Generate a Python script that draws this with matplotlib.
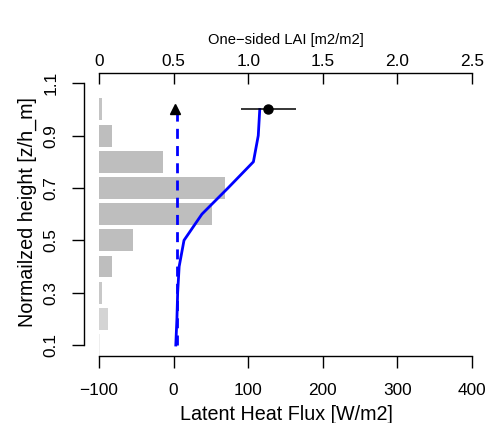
import matplotlib
matplotlib.use("Agg")
import matplotlib.pyplot as plt

plt.rcParams["font.family"] = ["Liberation Sans", "DejaVu Sans"]

# Canopy layers (normalized height) and leaf area per layer
layer_height = [0.1, 0.2, 0.3, 0.4, 0.5, 0.6, 0.7, 0.8, 0.9, 1.0]
layer_lai = [0.005, 0.062, 0.02, 0.085, 0.228, 0.76, 0.842, 0.43, 0.086, 0.02]
layer_color = ["#EEEEEE", "#D4D4D4", "#C8C8C8", "#BEBEBE", "#BEBEBE",
               "#BEBEBE", "#BEBEBE", "#BEBEBE", "#BEBEBE", "#C4C4C4"]

# Modelled latent heat flux profiles [W/m2]
profile_height = [0.1, 0.2, 0.3, 0.4, 0.5, 0.6, 0.7, 0.8, 0.9, 1.0]
flux_total = [3, 4.5, 5.5, 7.5, 14, 38, 73, 107, 113.5, 115.5]
flux_soil = [5, 5, 5, 5, 5, 5, 5, 5, 5, 5]

# Observations at canopy top
obs_height = 1.0
obs_flux = 127
obs_flux_err = 36.5
obs_soil_flux = 2.5

flux_ticks = [-100, 0, 100, 200, 300, 400]
height_ticks = [0.1, 0.3, 0.5, 0.7, 0.9, 1.1]
lai_ticks = [0, 0.5, 1.0, 1.5, 2.0, 2.5]
lai_tick_labels = ["0", "0.5", "1.0", "1.5", "2.0", "2.5"]

W, H = 491, 423
fig = plt.figure(figsize=(W / 100, H / 100), dpi=100)
left, right, top, bottom = 84, 487, 72.8, 355.5
ax = fig.add_axes([left / W, 1 - bottom / H, (right - left) / W, (bottom - top) / H])
ax2 = ax.twiny()

# LAI bars on the top axis, kept behind the flux profiles
ax2.barh(layer_height, layer_lai, height=0.084, left=0, color=layer_color,
         edgecolor="none", zorder=1)
ax2.set_xlim(-0.1, 2.6)
ax.set_zorder(ax2.get_zorder() + 1)
ax.patch.set_visible(False)

ax.plot(flux_soil, profile_height, color="#0000FF", lw=2.0,
        linestyle=(0, (3.6, 2.6)), zorder=3)
ax.plot(flux_total, profile_height, color="#0000FF", lw=2.0, zorder=3)
ax.errorbar([obs_flux], [obs_height], xerr=[obs_flux_err], fmt="o",
            color="black", ms=6.5, elinewidth=1.1, capsize=0, zorder=4)
ax.plot([obs_soil_flux], [obs_height], marker="^", color="black", ms=7.5,
        linestyle="none", zorder=4)

ax.set_xlim(-120, 420)
ax.set_ylim(0.06, 1.14)

# R-style detached axes
for s in ["top", "right"]:
    ax.spines[s].set_visible(False)
ax.spines["left"].set_bounds(0.1, 1.1)
ax.spines["bottom"].set_bounds(-100, 400)
for s in ["bottom", "left", "right"]:
    ax2.spines[s].set_visible(False)
ax2.spines["top"].set_bounds(0, 2.5)
for sp in list(ax.spines.values()) + list(ax2.spines.values()):
    sp.set_linewidth(1.0)

ax.set_xticks(flux_ticks)
ax.set_xticklabels([f"{v:d}".replace("-", "\u2212") for v in flux_ticks])
ax.set_yticks(height_ticks)
ax.set_yticklabels([f"{v:.1f}" for v in height_ticks], rotation=90, va="center")
ax.tick_params(axis="x", direction="out", length=8.6, width=1.0, labelsize=12.4, pad=11.5)
ax.tick_params(axis="y", direction="out", length=8.6, width=1.0, labelsize=12.4, pad=9.5)

ax2.set_xticks(lai_ticks)
ax2.set_xticklabels(lai_tick_labels)
ax2.tick_params(axis="x", direction="in", length=8, width=1.0, labelsize=12.4, pad=3)

fig.text(286 / W, 1 - 414 / H, "Latent Heat Flux [W/m2]", ha="center", va="center",
         fontsize=14.2)
fig.text(286 / W, 1 - 40 / H, "One\u2212sided LAI [m2/m2]", ha="center", va="center",
         fontsize=10.6)
fig.text(27 / W, 1 - 212 / H, "Normailzed height [z/h_m]", ha="center", va="center",
         rotation=90, fontsize=14.2)

fig.savefig("out.png", dpi=100)
